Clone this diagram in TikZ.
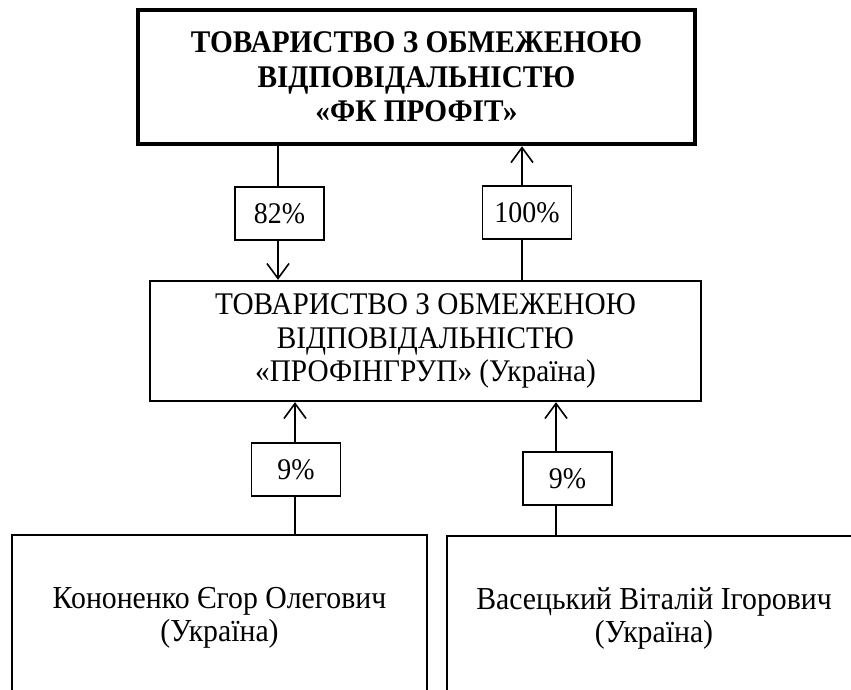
\documentclass[tikz,border=0pt]{standalone}
\usepackage{fontspec}
\setmainfont{Liberation Serif}
\newfontfamily\cond{Liberation Serif}[FakeStretch=0.93]
\usetikzlibrary{arrows.meta}
\begin{document}
\begin{tikzpicture}[x=1pt,y=-1pt,
  pct/.style={draw,line width=1.4pt,minimum width=89pt,minimum height=53pt,inner sep=0pt,font=\cond\fontsize{30}{34}\selectfont},
  conn/.style={line width=1.8pt},
  arr/.style={conn,-{Straight Barb[length=15pt,width=22pt,line width=1.6pt]}},
  boxtext/.style={align=center,inner sep=0pt}]
\clip (0,0) rectangle (851,690);
\useasboundingbox (0,0) rectangle (851,690);
\fill[white] (0,0) rectangle (851,690);
\node[draw,line width=4.5pt,minimum width=557pt,minimum height=134pt,boxtext,
  font=\cond\bfseries\fontsize{31.5}{34.7}\selectfont] (top) at (416.5,77)
  {ТОВАРИСТВО З ОБМЕЖЕНОЮ\\ВІДПОВІДАЛЬНІСТЮ\\«ФК ПРОФІТ»};
\node[draw,line width=2.3pt,minimum width=551pt,minimum height=120pt,boxtext,
  font=\cond\fontsize{31.5}{33.7}\selectfont] (mid) at (425.5,341)
  {ТОВАРИСТВО З ОБМЕЖЕНОЮ\\ВІДПОВІДАЛЬНІСТЮ\\«ПРОФІНГРУП» (Україна)};
\node[pct] (p82) at (279.5,213.5) {82\%};
\node[pct] (p100) at (527,212.5) {100\%};
\node[pct] (p9a) at (296,469.5) {9\%};
\node[pct] (p9b) at (567.5,478.5) {9\%};
\node[draw,line width=2.3pt,minimum width=415pt,minimum height=166pt,boxtext,
  font=\cond\fontsize{32}{33}\selectfont] (kon) at (219.5,618)
  {Кононенко Єгор Олегович\\(Україна)};
\node[draw,line width=2.3pt,minimum width=414pt,minimum height=164pt,boxtext,
  font=\cond\fontsize{32}{33}\selectfont] (vas) at (654,618)
  {Васецький Віталій Ігорович\\(Україна)};
\coordinate (x82) at (278,0);
\coordinate (x100) at (522,0);
\coordinate (x9a) at (295,0);
\coordinate (x9b) at (556,0);
\draw[conn] (top.south -| x82) -- (p82.north -| x82);
\draw[arr] (p82.south -| x82) -- (mid.north -| x82);
\draw[conn] (mid.north -| x100) -- (p100.south -| x100);
\draw[arr] (p100.north -| x100) -- (top.south -| x100);
\draw[conn] (kon.north -| x9a) -- (p9a.south -| x9a);
\draw[arr] (p9a.north -| x9a) -- (mid.south -| x9a);
\draw[conn] (vas.north -| x9b) -- (p9b.south -| x9b);
\draw[arr] (p9b.north -| x9b) -- (mid.south -| x9b);
\end{tikzpicture}
\end{document}
